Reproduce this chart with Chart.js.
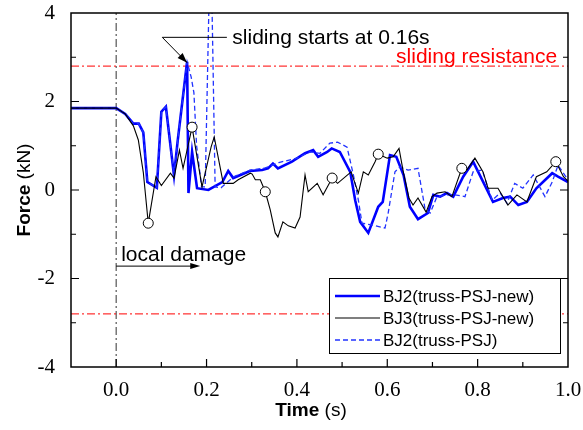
<!DOCTYPE html>
<html>
<head>
<meta charset="utf-8">
<script src="https://cdn.jsdelivr.net/npm/chart.js@4.4.1/dist/chart.umd.min.js"></script>
<style>
  html, body { margin: 0; padding: 0; background: #fff; }
  #forceChart { display: block; }
</style>
</head>
<body>
<canvas id="forceChart" width="583" height="430"></canvas>
<script>
// BJ2 (truss-PSJ-new): time (s) / force (kN)
const bj2NewT = [-0.1, 0, 0.02, 0.038, 0.05, 0.06, 0.069, 0.09, 0.1, 0.11, 0.128, 0.136, 0.157, 0.16, 0.168, 0.179,
  0.204, 0.235, 0.248, 0.259, 0.296, 0.323, 0.336, 0.347, 0.358, 0.389, 0.418, 0.436, 0.447, 0.467, 0.477, 0.495,
  0.518, 0.529, 0.54, 0.558, 0.58, 0.59, 0.606, 0.62, 0.636, 0.65, 0.668, 0.69, 0.702, 0.717, 0.732, 0.746, 0.768,
  0.79, 0.81, 0.834, 0.856, 0.872, 0.89, 0.909, 0.93, 0.965, 0.978, 1.0];
const bj2NewF = [1.85, 1.85, 1.72, 1.5, 1.5, 1.3, 0.18, 0.05, 1.77, 1.88, 0.33, 1.1, 2.9, -0.07, 0.86, 0.04,
  0, 0.18, 0.43, 0.27, 0.43, 0.45, 0.49, 0.6, 0.49, 0.64, 0.83, 0.9, 0.75, 0.86, 0.94, 0.86,
  0.41, -0.23, -0.72, -0.97, -0.38, -0.27, 0.79, 0.75, 0.34, -0.38, -0.66, -0.52, -0.11, -0.15, -0.07, -0.15, 0.3,
  0.64, 0.23, -0.27, -0.18, -0.15, -0.34, -0.27, 0.04, 0.38, 0.3, 0.18];

// BJ3 (truss-PSJ-new)
const bj3NewT = [-0.1, 0, 0.02, 0.038, 0.049, 0.06, 0.071, 0.088, 0.1, 0.12, 0.128, 0.14, 0.148, 0.168, 0.19,
  0.21, 0.217, 0.237, 0.259, 0.27, 0.297, 0.301, 0.308, 0.319, 0.33, 0.341, 0.352, 0.358, 0.369, 0.381, 0.396,
  0.407, 0.418, 0.425, 0.445, 0.458, 0.478, 0.49, 0.52, 0.536, 0.547, 0.558, 0.573, 0.58, 0.6, 0.613, 0.626,
  0.636, 0.648, 0.657, 0.668, 0.686, 0.699, 0.71, 0.728, 0.743, 0.765, 0.776, 0.794, 0.812, 0.823, 0.845,
  0.867, 0.887, 0.909, 0.93, 0.953, 0.973, 0.99, 1.0];
const bj3NewF = [1.85, 1.85, 1.72, 1.45, 1.13, 0.4, -0.75, 0.3, 0.1, 0.38, 0.27, 0.9, 0.49, 1.42, 0.07,
  0.97, 1.2, 0.15, 0.15, 0.23, 0.38, 0.36, 0.23, 0.23, -0.04, -0.45, -0.97, -1.06, -0.72, -0.81, -0.86,
  -0.61, 0.34, -0.04, 0.15, -0.11, 0.27, 0.15, 0.41, -0.07, 0.41, 0.34, 0.64, 0.81, 0.72, 0.75, 0.94,
  0.38, -0.18, -0.34, -0.18, -0.5, -0.15, -0.07, -0.04, -0.15, 0.49, 0.45, 0.72, 0.41, 0.04, 0.04,
  -0.34, -0.11, -0.27, 0.3, 0.41, 0.64, 0.3, 0.2];
// open circles on the BJ3 curve
const bj3MarkT = [0.071, 0.168, 0.33, 0.478, 0.58, 0.765, 0.973];

// BJ2 (truss-PSJ)
const bj2OldT = [-0.1, 0, 0.02, 0.038, 0.05, 0.06, 0.069, 0.09, 0.1, 0.11, 0.128, 0.136, 0.157, 0.166, 0.172,
  0.178, 0.189, 0.197, 0.209, 0.219, 0.232, 0.26, 0.296, 0.33, 0.36, 0.4, 0.429, 0.451, 0.473, 0.49, 0.511,
  0.525, 0.536, 0.544, 0.566, 0.595, 0.602, 0.617, 0.628, 0.646, 0.668, 0.684, 0.695, 0.71, 0.732, 0.75,
  0.772, 0.79, 0.81, 0.832, 0.85, 0.865, 0.882, 0.9, 0.923, 0.949, 0.965, 0.978, 1.0];
const bj2OldF = [1.85, 1.85, 1.72, 1.5, 1.5, 1.3, 0.18, 0.05, 1.77, 1.88, 0.33, 1.1, 2.9, 2.55, 2.2,
  1.0, 0.07, 0.07, 6.0, 0.07, 0.05, 0.3, 0.45, 0.5, 0.62, 0.72, 0.86, 0.83, 1.06, 1.08, 0.97,
  0.34, -0.23, -0.75, -0.79, -0.86, -0.52, 0.41, 0.52, 0.45, 0.49, -0.45, -0.52, -0.15, -0.11, -0.11,
  -0.15, 0.41, 0.45, -0.23, -0.07, -0.3, 0.15, 0.04, 0.34, -0.15, 0.18, 0.56, 0.23];

const seriesLabels = ["BJ2(truss-PSJ-new)", "BJ3(truss-PSJ-new)", "BJ2(truss-PSJ)"];
const slidingResistance = 2.8;
const xRange = [-0.1, 1.0];
const yRange = [-4, 4];

const zip = (ts, fs) => ts.map((t, i) => ({ x: t, y: fs[i] }));
const serifFont = '"Liberation Serif", "Times New Roman", serif';
const sansFont = '"Liberation Sans", Arial, sans-serif';
const dashDot = [8, 3, 2, 3];

// frame, inward ticks, axis titles, notes and the boxed legend
const decorations = {
  id: "decorations",
  afterDatasetsDraw(chart) {
    const { ctx, chartArea: a, scales: { x, y } } = chart;
    ctx.save();

    // frame
    ctx.strokeStyle = "#000";
    ctx.lineWidth = 1.5;
    ctx.strokeRect(a.left, a.top, a.right - a.left, a.bottom - a.top);

    // inward ticks: long where labelled, short between
    ctx.lineWidth = 1.2;
    ctx.beginPath();
    x.ticks.forEach(tk => {
      const px = x.getPixelForValue(tk.value);
      if (px <= a.left + 1 || px >= a.right - 1) return;
      const len = tk.label ? 8 : 5;
      ctx.moveTo(px, a.bottom);
      ctx.lineTo(px, a.bottom - len);
    });
    y.ticks.forEach(tk => {
      const py = y.getPixelForValue(tk.value);
      if (py <= a.top + 1 || py >= a.bottom - 1) return;
      const len = tk.label ? 8 : 5;
      ctx.moveTo(a.left, py);
      ctx.lineTo(a.left + len, py);
      ctx.moveTo(a.right, py);
      ctx.lineTo(a.right - len, py);
    });
    ctx.stroke();

    // axis titles (bold name, plain unit)
    const mixedTitle = (bold, plain, cx, cy) => {
      ctx.font = "bold 19px " + sansFont;
      const w1 = ctx.measureText(bold).width;
      ctx.font = "19px " + sansFont;
      const w2 = ctx.measureText(plain).width;
      let sx = cx - (w1 + w2) / 2;
      ctx.textBaseline = "middle";
      ctx.textAlign = "left";
      ctx.fillStyle = "#000";
      ctx.font = "bold 19px " + sansFont;
      ctx.fillText(bold, sx, cy);
      ctx.font = "19px " + sansFont;
      ctx.fillText(plain, sx + w1, cy);
    };
    mixedTitle("Time", " (s)", 311, 411);
    ctx.save();
    ctx.translate(25, (a.top + a.bottom) / 2);
    ctx.rotate(-Math.PI / 2);
    mixedTitle("Force", " (kN)", 0, 0);
    ctx.restore();

    const arrowHead = (fx, fy, tx, ty, len, half) => {
      const ang = Math.atan2(ty - fy, tx - fx);
      ctx.beginPath();
      ctx.moveTo(tx, ty);
      ctx.lineTo(tx - len * Math.cos(ang) + half * Math.sin(ang), ty - len * Math.sin(ang) - half * Math.cos(ang));
      ctx.lineTo(tx - len * Math.cos(ang) - half * Math.sin(ang), ty - len * Math.sin(ang) + half * Math.cos(ang));
      ctx.closePath();
      ctx.fill();
    };

    // "sliding starts" note pointing at the BJ2 peak
    ctx.strokeStyle = "#000";
    ctx.fillStyle = "#000";
    ctx.lineWidth = 1;
    const tipX = x.getPixelForValue(0.157), tipY = y.getPixelForValue(2.9) + 1;
    const kneeX = x.getPixelForValue(0.102), kneeY = y.getPixelForValue(3.45);
    const endX = x.getPixelForValue(0.245);
    ctx.beginPath();
    ctx.moveTo(endX, kneeY);
    ctx.lineTo(kneeX, kneeY);
    ctx.lineTo(tipX, tipY);
    ctx.stroke();
    arrowHead(kneeX, kneeY, tipX, tipY, 10, 3.5);
    ctx.font = "21px " + sansFont;
    ctx.textAlign = "left";
    ctx.textBaseline = "middle";
    ctx.fillText("sliding starts at 0.16s", x.getPixelForValue(0.257), kneeY + 1);

    // sliding resistance label above the red line
    ctx.fillStyle = "#ff0000";
    ctx.textAlign = "right";
    ctx.textBaseline = "alphabetic";
    ctx.fillText("sliding resistance", x.getPixelForValue(0.976), y.getPixelForValue(slidingResistance) - 3);

    // local damage arrow from t = 0
    ctx.fillStyle = "#000";
    const dmgY = y.getPixelForValue(-1.72);
    const dmgX0 = x.getPixelForValue(0), dmgX1 = x.getPixelForValue(0.186);
    ctx.beginPath();
    ctx.moveTo(dmgX0, dmgY);
    ctx.lineTo(dmgX1 - 6, dmgY);
    ctx.stroke();
    arrowHead(dmgX0, dmgY, dmgX1, dmgY, 10, 3);
    ctx.textAlign = "left";
    ctx.fillText("local damage", dmgX0 + 5, dmgY - 5);

    // legend box
    const bx = 329, by = 278, bw = 231, bh = 75;
    ctx.fillStyle = "#fff";
    ctx.fillRect(bx, by, bw, bh);
    ctx.strokeStyle = "#000";
    ctx.lineWidth = 1;
    ctx.strokeRect(bx + 0.5, by + 0.5, bw, bh);
    ctx.font = "17px " + sansFont;
    ctx.textBaseline = "middle";
    seriesLabels.forEach((label, i) => {
      const ds = chart.data.datasets[i];
      const ly = by + 18 + i * 22;
      ctx.strokeStyle = ds.borderColor;
      ctx.lineWidth = ds.borderWidth;
      ctx.setLineDash(ds.borderDash || []);
      ctx.beginPath();
      ctx.moveTo(bx + 6, ly);
      ctx.lineTo(bx + 51, ly);
      ctx.stroke();
      ctx.setLineDash([]);
      ctx.fillStyle = "#000";
      ctx.fillText(label, bx + 54, ly + 1);
    });

    ctx.restore();
  }
};

new Chart(document.getElementById("forceChart"), {
  type: "line",
  data: {
    datasets: [
      {
        label: seriesLabels[0],
        data: zip(bj2NewT, bj2NewF),
        borderColor: "#0000ff",
        borderWidth: 2.6,
        pointRadius: 0,
        order: 3
      },
      {
        label: seriesLabels[1],
        data: zip(bj3NewT, bj3NewF),
        borderColor: "#000",
        borderWidth: 1.1,
        pointRadius: ctx => (ctx.raw && bj3MarkT.includes(ctx.raw.x) ? 5 : 0),
        pointBackgroundColor: "#fff",
        pointBorderColor: "#000",
        pointBorderWidth: 1,
        order: 1
      },
      {
        label: seriesLabels[2],
        data: zip(bj2OldT, bj2OldF),
        borderColor: "#2233ff",
        borderWidth: 1.3,
        borderDash: [5, 3],
        pointRadius: 0,
        order: 2
      },
      {
        label: "resistance+",
        data: [{ x: xRange[0], y: slidingResistance }, { x: xRange[1], y: slidingResistance }],
        borderColor: "#ff0000",
        borderWidth: 1,
        borderDash: dashDot,
        pointRadius: 0,
        order: 4
      },
      {
        label: "resistance-",
        data: [{ x: xRange[0], y: -slidingResistance }, { x: xRange[1], y: -slidingResistance }],
        borderColor: "#ff0000",
        borderWidth: 1,
        borderDash: dashDot,
        pointRadius: 0,
        order: 4
      },
      {
        label: "t0",
        data: [{ x: 0, y: yRange[0] }, { x: 0, y: yRange[1] }],
        borderColor: "#555",
        borderWidth: 1.2,
        borderDash: dashDot,
        pointRadius: 0,
        order: 4
      }
    ]
  },
  options: {
    responsive: false,
    animation: false,
    layout: { padding: { left: 0, right: 15, top: 13, bottom: 0 } },
    elements: { line: { tension: 0, fill: false } },
    plugins: {
      legend: { display: false },
      tooltip: { enabled: false }
    },
    scales: {
      x: {
        type: "linear",
        min: xRange[0],
        max: xRange[1],
        grid: { display: false },
        border: { display: false },
        afterFit: s => { s.height = 63; s.paddingLeft = 0; s.paddingRight = 0; },
        ticks: {
          stepSize: 0.1,
          autoSkip: false,
          maxRotation: 0,
          padding: 3,
          color: "#000",
          font: { family: serifFont, size: 21 },
          callback: v => {
            const k = Math.round(v * 10);
            return k % 2 === 0 ? (k / 10).toFixed(1) : "";
          }
        }
      },
      y: {
        min: yRange[0],
        max: yRange[1],
        grid: { display: false },
        border: { display: false },
        afterFit: s => { s.width = 71; s.paddingTop = 0; s.paddingBottom = 0; },
        ticks: {
          stepSize: 1,
          padding: 8,
          color: "#000",
          font: { family: serifFont, size: 21 },
          callback: v => (Math.round(v) % 2 === 0 ? String(Math.round(v)) : "")
        }
      }
    }
  },
  plugins: [decorations]
});
</script>
</body>
</html>
